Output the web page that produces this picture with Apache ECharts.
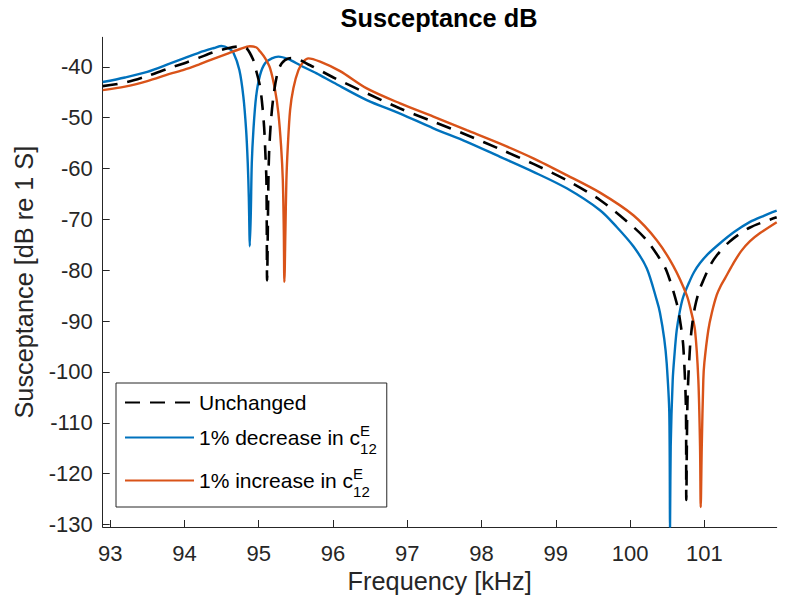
<!DOCTYPE html>
<html>
<head>
<meta charset="utf-8">
<script src="https://cdn.jsdelivr.net/npm/echarts@6/dist/echarts.min.js"></script>
<style>
html,body{margin:0;padding:0;background:#fff;}
#chart{width:795px;height:603px;}
</style>
</head>
<body>
<div id="chart"></div>
<script>
// ---- data (frequency kHz, susceptance dB) ----
const xTicks = [93, 94, 95, 96, 97, 98, 99, 100, 101];
const yTicks = [-130, -120, -110, -100, -90, -80, -70, -60, -50, -40];

const unchanged = [
  [92.9, -43.8], [93.2, -43.1], [93.5, -41.8], [93.8, -40.25], [94.0, -39.3],
  [94.2, -38.2], [94.4, -37.1], [94.6, -36.3], [94.75, -36.0], [94.84, -36.4],
  [94.929, -38.7], [94.952, -40.0], [95.010, -43.3], [95.042, -46.55], [95.073, -51.8],
  [95.09, -57.0], [95.104, -62.3], [95.109, -72.1], [95.113, -82.0], [95.131, -62.3],
  [95.14, -57.0], [95.163, -51.1], [95.198, -45.9], [95.252, -41.3], [95.311, -39.3],
  [95.40, -38.35], [95.467, -38.3], [95.692, -39.7], [96.006, -42.1], [96.455, -45.2],
  [96.904, -48.2], [97.352, -50.8], [97.801, -53.4], [98.25, -56.2], [98.698, -59.1],
  [99.147, -62.3], [99.595, -66.2], [100.044, -71.5], [100.224, -74.1], [100.38, -77.3],
  [100.493, -80.2], [100.628, -86.5], [100.677, -90.3], [100.717, -95.1], [100.753, -108.1],
  [100.757, -125.2], [100.773, -105.6], [100.807, -95.1], [100.837, -90.6], [100.874, -87.2],
  [100.927, -84.2], [100.986, -82.0], [101.077, -79.1], [101.166, -77.1], [101.346, -74.3],
  [101.615, -71.6], [101.974, -69.6]
];

const decrease = [
  [92.9, -43.0], [93.2, -42.1], [93.5, -41.0], [93.8, -39.4], [94.0, -38.3],
  [94.2, -37.2], [94.4, -36.3], [94.5, -35.9], [94.6, -36.4], [94.66, -37.25],
  [94.74, -40.65], [94.794, -45.9], [94.831, -52.45], [94.853, -59.0], [94.867, -65.6],
  [94.875, -72.1], [94.880, -75.3], [94.894, -68.8], [94.907, -59.0], [94.929, -52.45],
  [94.965, -45.9], [95.019, -41.6], [95.086, -39.3], [95.177, -38.35], [95.265, -38.0],
  [95.40, -38.5], [95.558, -39.7], [95.78, -41.3], [96.006, -43.1], [96.455, -46.55],
  [96.904, -49.2], [97.352, -52.1], [97.801, -54.75], [98.25, -57.7], [98.698, -60.65],
  [99.147, -63.9], [99.595, -68.2], [99.82, -71.5], [100.044, -75.3], [100.224, -79.6],
  [100.359, -85.9], [100.403, -88.4], [100.46, -93.5], [100.493, -98.3], [100.528, -108.1],
  [100.538, -130.5], [100.547, -114.7], [100.574, -101.6], [100.598, -96.6], [100.628, -91.8],
  [100.672, -87.9], [100.717, -85.2], [100.807, -82.0], [100.86, -80.4], [100.942, -78.6],
  [101.05, -76.8], [101.211, -74.7], [101.4, -72.5], [101.615, -70.5], [101.8, -69.3],
  [101.974, -68.3]
];

const increase = [
  [92.9, -44.6], [93.2, -43.9], [93.5, -42.8], [93.8, -41.4], [94.0, -40.55],
  [94.2, -39.5], [94.4, -38.4], [94.6, -37.3], [94.75, -36.5], [94.88, -35.95],
  [94.97, -36.2], [95.019, -37.0], [95.086, -38.3], [95.154, -40.3], [95.221, -44.6],
  [95.265, -49.1], [95.302, -55.7], [95.325, -62.3], [95.338, -72.1], [95.346, -82.3],
  [95.360, -72.1], [95.373, -62.3], [95.392, -55.7], [95.423, -48.5], [95.467, -44.2],
  [95.535, -40.65], [95.602, -39.0], [95.669, -38.35], [95.827, -39.0], [96.096, -40.85],
  [96.455, -44.25], [96.904, -47.2], [97.352, -49.8], [97.801, -52.45], [98.25, -55.1],
  [98.698, -58.0], [99.147, -61.3], [99.595, -64.75], [100.044, -69.2], [100.359, -74.1],
  [100.583, -79.2], [100.762, -84.9], [100.82, -88.0], [100.874, -91.8], [100.919, -101.6],
  [100.942, -114.7], [100.951, -126.6], [100.965, -114.7], [100.986, -101.6], [101.0, -98.2],
  [101.053, -91.8], [101.10, -88.4], [101.166, -84.9], [101.22, -83.1], [101.278, -81.6],
  [101.385, -78.8], [101.493, -76.3], [101.615, -74.3], [101.75, -72.7], [101.974, -70.55]
];

const seriesNames = ['Unchanged', '1% decrease in c', '1% increase in c'];

const FONT = '"Liberation Sans", Arial, Helvetica, sans-serif';
const AX = '#262626';

const chart = echarts.init(document.getElementById('chart'), null, {renderer: 'svg'});
chart.setOption({
  animation: false,
  backgroundColor: '#fff',
  title: {
    text: 'Susceptance dB',
    left: 439, top: 5, padding: 0, textAlign: 'center',
    textStyle: {fontFamily: FONT, fontSize: 25.3, fontWeight: 'bold', color: '#000'}
  },
  grid: {left: 102.7, right: 18.3, top: 37.3, bottom: 76, containLabel: false},
  xAxis: {
    type: 'value', min: 92.9, max: 101.974,
    name: 'Frequency [kHz]', nameLocation: 'middle', nameGap: 40,
    nameTextStyle: {fontFamily: FONT, fontSize: 25.3, color: AX},
    axisLine: {show: true, onZero: false, lineStyle: {color: AX, width: 1}},
    axisTick: {show: true, inside: true, length: 7, lineStyle: {color: AX}, customValues: xTicks},
    axisLabel: {fontFamily: FONT, fontSize: 22, color: AX, margin: 15, customValues: xTicks,
      formatter: v => String(v)},
    splitLine: {show: false}
  },
  yAxis: {
    type: 'value', min: -130.5, max: -34.2,
    name: 'Susceptance [dB re 1 S]', nameLocation: 'middle', nameGap: 66, nameRotate: 90,
    nameTextStyle: {fontFamily: FONT, fontSize: 25.3, color: AX},
    axisLine: {show: true, onZero: false, lineStyle: {color: AX, width: 1}},
    axisTick: {show: true, inside: true, length: 7, lineStyle: {color: AX}, customValues: yTicks},
    axisLabel: {fontFamily: FONT, fontSize: 22, color: AX, margin: 10, customValues: yTicks,
      formatter: v => String(v)},
    splitLine: {show: false}
  },
  legend: {
    orient: 'vertical', left: 116, top: 383,
    data: seriesNames,
    selectedMode: false,
    itemWidth: 69, itemHeight: 14, itemGap: 6,
    padding: [9, 10, 8, 8],
    backgroundColor: '#fff', borderColor: AX, borderWidth: 1,
    itemStyle: {opacity: 0},
    formatter: function (name) {
      if (name === 'Unchanged') return '{a|Unchanged}';
      return '{b|' + name + '}{sup|E}{sub|12}';
    },
    textStyle: {
      fontFamily: FONT, fontSize: 21, color: '#000',
      rich: {
        a: {fontFamily: FONT, fontSize: 21, color: '#000', lineHeight: 20},
        b: {fontFamily: FONT, fontSize: 21, color: '#000', lineHeight: 40},
        sup: {fontFamily: FONT, fontSize: 15, color: '#000', lineHeight: 15, width: 0, padding: [0, 0, 14, 0]},
        sub: {fontFamily: FONT, fontSize: 15, color: '#000', lineHeight: 15, padding: [22, 0, 0, 0]}
      }
    }
  },
  series: [
    {name: seriesNames[0], type: 'line', data: unchanged, symbol: 'none', smooth: 0.3, z: 3,
      lineStyle: {color: '#000', width: 2.6, type: [15, 10]}, itemStyle: {color: '#000'}},
    {name: seriesNames[1], type: 'line', data: decrease, symbol: 'none', smooth: 0.3, z: 2,
      lineStyle: {color: '#0072BD', width: 2.4}, itemStyle: {color: '#0072BD'}},
    {name: seriesNames[2], type: 'line', data: increase, symbol: 'none', smooth: 0.3, z: 2,
      lineStyle: {color: '#D95319', width: 2.4}, itemStyle: {color: '#D95319'}}
  ]
});
</script>
</body>
</html>
